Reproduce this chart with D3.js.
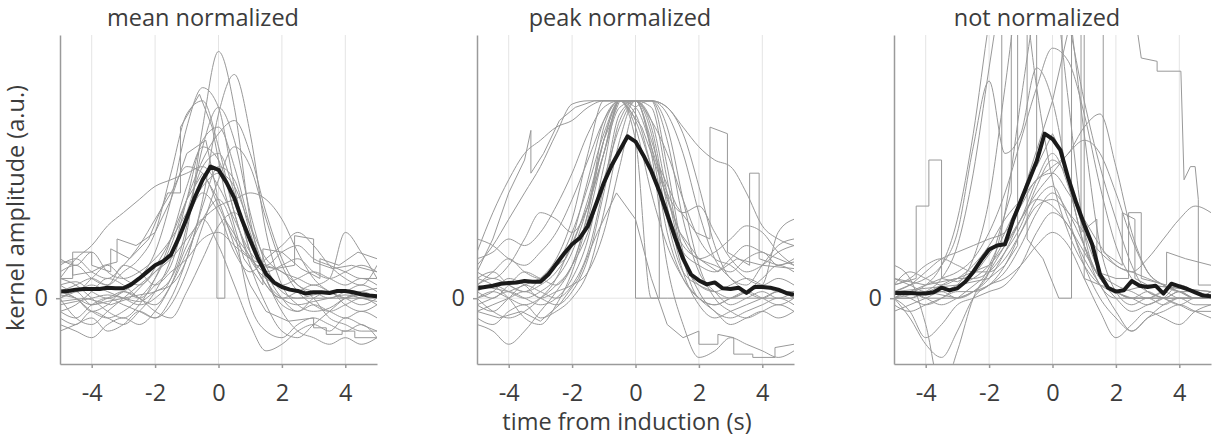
<!DOCTYPE html>
<html>
<head>
	<meta charset="utf-8">
	<title>kernel amplitude</title>
	<style>
		body { margin: 0; background: #fff; }
		text { font-family: 'Open Sans', sans-serif; fill: #3c3c3c; }
		.grid line { stroke: #e4e4e4; stroke-width: 1; }
		.trace { fill: none; stroke: #999; stroke-width: 1; }
		.mean { fill: none; stroke: #1a1a1a; stroke-width: 4; stroke-linejoin: round; }
		.axis path, .axis line { stroke: #9a9a9a; stroke-width: 1.5; }
		.axis text { font-size: 23.5px; fill: #3c3c3c; font-family: 'Open Sans', sans-serif; }
		.title, .label { font-size: 23.5px; }
	</style>
</head>
<body>
<script src="https://d3js.org/d3.v7.min.js"></script>
<script>
	'use strict';

	// time grids (s)
	const tTrace = [-5, -4.5, -4, -3.5, -3, -2.5, -2, -1.5, -1, -0.5, 0, 0.5, 1, 1.5, 2, 2.5, 3, 3.5, 4, 4.5, 5];
	const tMean = [-5, -4.75, -4.5, -4.25, -4, -3.75, -3.5, -3.25, -3, -2.75, -2.5, -2.25, -2, -1.75, -1.5, -1.25,
		-1, -0.75, -0.5, -0.25, 0, 0.25, 0.5, 0.75, 1, 1.25, 1.5, 1.75, 2, 2.25, 2.5, 2.75, 3, 3.25, 3.5, 3.75,
		4, 4.25, 4.5, 4.75, 5];

	const titles = ['mean normalized', 'peak normalized', 'not normalized'];
	const xTicks = [-4, -2, 0, 2, 4];
	const yTicks = [0];

	// mean normalized: smooth traces on tTrace, stepped traces as [t, v], mean on tMean
	const meanNormTraces = [
		[0.05, 0.0, -0.1, -0.05, 0.0, 0.05, 0.1, 0.3, 1.0, 2.6, 3.75, 2.9, 1.2, 0.3, 0.0, -0.1, -0.05, 0.0, 0.05, 0.0, -0.05],
		[-0.1, -0.05, 0.0, 0.05, 0.0, -0.05, 0.1, 0.2, 0.6, 1.5, 2.8, 3.4, 2.5, 1.0, 0.2, -0.1, -0.2, -0.15, 0.0, 0.05, 0.0],
		[0.2, 0.25, 0.1, 0.0, 0.1, 0.3, 0.7, 1.5, 2.6, 3.2, 2.9, 1.7, 0.7, 0.2, 0.0, 0.1, 0.2, 0.1, 0.0, 0.1, 0.15],
		[0.4, 0.5, 0.3, 0.2, 0.4, 0.6, 1.0, 1.9, 2.8, 3.0, 2.3, 1.3, 0.6, 0.3, 0.2, 0.3, 0.4, 0.3, 0.2, 0.3, 0.2],
		[0.0, 0.1, 0.2, 0.1, 0.0, -0.1, 0.0, 0.3, 1.1, 2.3, 2.9, 2.4, 1.3, 0.5, 0.1, 0.0, 0.05, 0.1, 0.1, 0.0, 0.05],
		[-0.3, -0.4, -0.2, -0.3, -0.4, -0.2, 0.1, 0.6, 1.5, 2.4, 2.6, 2.0, 1.1, 0.4, 0.0, -0.2, -0.1, -0.2, -0.3, -0.2, -0.3],
		[0.3, 0.2, 0.0, -0.2, -0.3, -0.1, 0.3, 0.9, 1.7, 2.3, 2.1, 1.3, 0.5, -0.1, -0.5, -0.6, -0.4, -0.2, 0.0, 0.1, 0.0],
		[0.1, 0.0, -0.2, -0.3, -0.2, 0.0, 0.3, 0.8, 1.5, 2.1, 2.5, 2.7, 2.2, 1.3, 0.6, 0.2, 0.1, 0.0, 0.1, 0.2, 0.1],
		[0.5, 0.6, 0.4, 0.3, 0.5, 0.8, 1.2, 1.6, 2.0, 1.9, 1.4, 0.9, 0.6, 0.4, 0.5, 0.6, 0.4, 0.3, 0.4, 0.5, 0.4],
		[0.3, 0.6, 0.8, 1.1, 1.3, 1.5, 1.7, 1.8, 1.9, 2.0, 1.7, 1.2, 0.7, 0.5, 0.7, 0.8, 0.6, 0.5, 0.4, 0.3, 0.3],
		[-0.2, -0.1, 0.1, 0.3, 0.2, 0.0, -0.1, 0.2, 0.7, 1.2, 1.5, 1.0, -0.1, -0.5, -0.6, -0.4, -0.3, -0.4, -0.5, -0.4, -0.6],
		[0.0, -0.3, -0.4, -0.2, 0.0, 0.2, 0.4, 0.6, 0.9, 1.2, 1.4, 1.5, 1.6, 1.5, 1.2, 0.7, 0.3, 0.1, 0.0, -0.1, 0.0],
		[0.6, 0.5, 0.7, 0.4, 0.3, 0.4, 0.6, 0.9, 1.3, 1.7, 1.9, 1.7, 1.1, 0.6, 0.4, 0.3, 0.2, 0.3, 1.0, 0.7, 0.3],
		[0.2, 0.1, 0.3, 0.5, 0.3, 0.2, 0.4, 0.7, 1.2, 1.6, 1.3, 0.7, 0.4, 0.6, 0.8, 1.0, 0.8, 0.5, 0.3, 0.2, 0.5],
		[-0.2, -0.3, -0.1, 0.0, -0.1, -0.2, -0.3, -0.1, 0.4, 1.1, 1.8, 2.3, 2.0, 1.2, 0.5, 0.1, -0.1, -0.2, -0.1, 0.0, -0.1],
		[0.1, 0.2, 0.3, 0.2, 0.5, 0.4, 0.2, 0.4, 0.6, 0.9, 1.0, 0.8, 0.6, 0.5, 0.4, 0.2, 0.0, -0.3, -0.4, -0.5, -0.5],
		[0.0, 0.1, -0.1, 0.0, 0.1, 0.0, 0.2, 0.5, 1.3, 2.0, 2.2, 1.6, 0.7, 0.2, 0.0, 0.0, 0.0, 0.0, 0.0, 0.0, 0.0],
		[-0.5, -0.4, -0.3, -0.5, -0.4, -0.2, -0.3, 0.0, 0.6, 1.4, 2.0, 1.8, 1.0, 0.3, -0.2, -0.5, -0.6, -0.7, -0.6, -0.7, -0.6],
		[0.1, 0.0, -0.2, -0.1, 0.1, 0.0, -0.2, -0.3, 0.1, 0.6, 1.1, 1.3, 0.9, 0.3, -0.1, -0.2, 0.0, 0.1, -0.1, -0.2, -0.1],
		[-0.4, -0.5, -0.6, -0.4, -0.3, -0.4, -0.2, 0.2, 0.8, 1.2, 0.8, 0.2, -0.4, -0.8, -0.7, -0.5, -0.4, -0.5, -0.3, -0.4, -0.5]
	];
	const meanNormSteps = [
		[[-5, 0.55], [-4.6, 0.55], [-4.6, 0.35], [-4.0, 0.4], [-3.6, 0.5], [-3.2, 0.55], [-3.2, 0.9], [-2.6, 0.8],
			[-2.0, 1.0], [-1.5, 1.5], [-1.0, 2.2], [-0.4, 2.4], [-0.05, 1.6], [-0.05, 0], [0.2, 0], [0.2, 1.2],
			[0.6, 0.9], [1.2, 0.5], [1.8, 0.45], [2.4, 0.5], [2.4, 0.95], [3.0, 0.9], [3.0, 0.55], [3.6, 0.45],
			[4.2, 0.5], [5, 0.4]],
		[[-5, -0.05], [-4.2, 0.0], [-3.4, -0.1], [-2.8, 0.0], [-2.2, 0.3], [-1.6, 0.8], [-1.0, 1.5], [-0.5, 1.9],
			[0, 1.5], [0.5, 0.8], [1.0, 0.2], [1.5, -0.2], [2.2, -0.35], [3.0, -0.3], [3.0, -0.45], [3.4, -0.45],
			[3.4, -0.55], [3.9, -0.55], [3.9, -0.5], [4.3, -0.5], [4.3, -0.6], [5, -0.6]],
		[[-5, 0.3], [-4.6, 0.3], [-4.6, 0.7], [-4.0, 0.7], [-4.0, 0.5], [-3.4, 0.4], [-3.4, 0.75], [-2.8, 0.6],
			[-2.2, 0.9], [-1.6, 1.6], [-1.2, 1.6], [-1.2, 2.6], [-0.6, 3.1], [-0.2, 2.6], [0.2, 1.6], [0.8, 0.6],
			[1.4, 0.2], [1.4, 0.75], [2.0, 0.7], [2.6, 0.45], [3.2, 0.3], [3.2, 0.6], [3.8, 0.5], [4.4, 0.7], [5, 0.6]]
	];
	const meanNormAvg = [0.10, 0.11, 0.13, 0.14, 0.14, 0.14, 0.16, 0.15, 0.15, 0.21, 0.30, 0.40, 0.50, 0.56, 0.66, 0.92,
		1.22, 1.53, 1.80, 2.00, 1.95, 1.76, 1.52, 1.18, 0.88, 0.60, 0.37, 0.24, 0.17, 0.13, 0.11, 0.07, 0.09, 0.09,
		0.08, 0.11, 0.11, 0.09, 0.06, 0.04, 0.03];

	// peak normalized
	const peakNormTraces = [
		[0.0, 0.1, 0.0, -0.1, 0.0, 0.2, 0.5, 1.3, 2.6, 3.0, 3.0, 2.3, 1.0, 0.3, 0.0, -0.1, 0.0, 0.1, 0.0, -0.1, 0.0],
		[0.2, 0.3, 0.2, 0.1, 0.3, 0.6, 1.2, 2.2, 3.0, 3.0, 3.0, 2.7, 1.6, 0.6, 0.2, 0.1, 0.2, 0.3, 0.2, 0.1, 0.1],
		[-0.1, 0.0, 0.1, 0.0, -0.1, 0.0, 0.3, 0.9, 2.0, 3.0, 3.0, 3.0, 2.0, 0.7, 0.1, -0.2, -0.3, -0.2, -0.1, 0.0, -0.1],
		[0.5, 0.8, 1.2, 1.6, 2.0, 2.5, 2.95, 3.0, 3.0, 3.0, 2.8, 2.0, 1.2, 0.7, 0.5, 0.4, 0.6, 0.8, 0.7, 0.6, 0.5],
		[0.7, 1.3, 1.8, 2.2, 2.4, 2.6, 2.7, 2.9, 3.0, 3.0, 3.0, 3.0, 2.9, 2.6, 2.3, 2.1, 2.0, 1.6, 1.1, 0.9, 0.8],
		[0.0, -0.2, -0.3, -0.2, 0.0, 0.3, 0.9, 1.8, 2.7, 3.0, 2.6, 1.6, 0.8, 0.3, 0.0, -0.2, -0.4, -0.3, -0.2, -0.3, -0.2],
		[0.3, 0.2, 0.0, -0.3, -0.4, -0.1, 0.4, 1.2, 2.2, 3.0, 3.0, 2.2, 0.5, -0.4, -0.9, -0.8, -0.6, -0.7, -0.8, -0.9, -0.8],
		[-0.4, -0.5, -0.7, -0.5, -0.2, 0.1, 0.5, 1.3, 2.4, 3.0, 3.0, 2.6, 1.4, 0.4, -0.1, -0.3, -0.2, -0.1, 0.0, 0.1, 0.0],
		[0.6, 0.7, 0.9, 0.8, 1.0, 1.4, 1.9, 2.5, 2.9, 3.0, 2.7, 2.0, 1.3, 0.8, 0.6, 0.5, 0.4, 0.6, 0.7, 0.5, 0.6],
		[0.1, 0.0, 0.2, 0.4, 0.3, 0.2, 0.5, 1.0, 1.8, 2.6, 3.0, 3.0, 2.8, 2.2, 1.3, 0.6, 0.3, 0.1, 0.0, 0.1, 0.0],
		[0.2, 0.4, 0.6, 0.4, 0.3, 0.5, 1.0, 1.7, 2.5, 3.0, 2.9, 2.3, 1.5, 0.9, 0.6, 0.7, 0.9, 1.1, 1.0, 0.7, 0.5],
		[-0.2, -0.1, 0.0, 0.1, 0.0, -0.1, 0.1, 0.6, 1.6, 2.7, 3.0, 2.9, 1.8, 0.6, 0.0, -0.1, 0.0, 0.1, 0.3, 0.5, 0.4],
		[0.9, 0.8, 0.6, 0.5, 0.7, 1.0, 1.5, 2.1, 2.7, 3.0, 3.0, 2.4, 1.6, 1.3, 1.4, 1.0, 0.6, 0.4, 0.5, 0.7, 0.8],
		[0.1, 0.2, 0.1, 0.0, 0.1, 0.3, 0.7, 1.4, 2.2, 3.0, 3.0, 2.5, 1.2, 0.4, 0.2, 0.1, 0.0, 0.1, 0.2, 1.0, 1.2],
		[0.4, 0.3, 0.5, 0.9, 1.3, 1.2, 1.0, 1.4, 2.2, 2.9, 3.0, 2.7, 2.2, 1.5, 0.9, 0.6, 0.5, 0.3, 0.2, 0.3, 0.2],
		[-0.1, -0.2, 0.0, 0.2, 0.1, 0.0, 0.2, 0.7, 1.7, 2.8, 3.0, 3.0, 2.4, 1.2, 0.4, 0.1, -0.1, 0.0, 0.1, 0.0, 0.1],
		[0.0, 0.1, 0.3, 0.2, 0.0, 0.1, 0.2, 0.4, 1.0, 2.0, 2.9, 3.0, 2.9, 2.5, 1.7, 0.8, 0.3, 0.2, 0.5, 0.8, 0.9],
		[0.3, 0.4, 0.2, 0.1, 0.2, 0.4, 0.8, 1.5, 2.4, 3.0, 2.4, 0.0, 0.0, 0.0, 0.0, 0.0, 0.0, 0.0, 0.0, 0.0, 0.0],
		[-0.3, -0.4, -0.2, -0.1, -0.3, -0.2, 0.0, 0.4, 1.3, 2.4, 3.0, 3.0, 2.6, 1.5, 0.5, 0.0, -0.2, -0.3, -0.2, -0.1, -0.2]
	];
	const peakNormSteps = [
		[[-5, 0.4], [-4.5, 0.9], [-4.0, 1.6], [-3.5, 2.1], [-3.3, 2.55], [-3.3, 1.9], [-2.9, 2.2], [-2.4, 2.7],
			[-1.9, 2.9], [-1.3, 3.0], [-0.4, 3.0], [0.2, 2.6], [0.8, 1.8], [1.4, 1.0], [2.0, 0.6], [2.6, 0.4],
			[3.2, 0.6], [4, 0.5], [5, 0.45]],
		[[-5, 0.2], [-4, 0.1], [-3, 0.3], [-2.2, 0.6], [-1.5, 1.4], [-1.0, 2.4], [-0.5, 3.0], [0.0, 3.0], [0.0, 0.0],
			[0.75, 0.0], [0.75, 2.0], [1.3, 1.4], [1.9, 1.0], [2.35, 0.9], [2.35, 2.6], [2.9, 2.5], [2.9, 0.7],
			[3.6, 0.5], [3.6, 1.9], [3.9, 1.9], [3.9, 0.6], [4.5, 0.5], [5, 0.55]],
		[[-5, -0.2], [-4.3, -0.3], [-3.6, -0.2], [-3, -0.35], [-2.4, -0.1], [-1.8, 0.3], [-1.2, 1.0], [-0.6, 1.6],
			[0, 1.2], [0.5, 0.3], [1.0, -0.4], [1.5, -0.6], [2.0, -0.5], [2.0, -0.7], [2.6, -0.7], [2.6, -0.55],
			[3.1, -0.6], [3.1, -0.85], [3.7, -0.85], [3.7, -0.9], [4.4, -0.9], [4.4, -0.75], [5, -0.7]]
	];
	const peakNormAvg = [0.15, 0.17, 0.19, 0.22, 0.23, 0.24, 0.26, 0.25, 0.25, 0.36, 0.52, 0.68, 0.82, 0.92, 1.10, 1.42,
		1.75, 2.02, 2.24, 2.46, 2.38, 2.17, 1.93, 1.63, 1.28, 0.92, 0.60, 0.36, 0.27, 0.21, 0.24, 0.15, 0.14, 0.16,
		0.08, 0.17, 0.17, 0.16, 0.13, 0.08, 0.05];

	// not normalized
	const notNormTraces = [
		[0.1, 0.2, 0.3, 0.5, 1.0, 2.3, 3.3, 2.2, 2.5, 3.5, 3.0, 1.8, 0.8, 0.3, 0.1, 0.0, 0.0, 0.1, 0.0, 0.0, 0.1],
		[0.0, 0.0, 0.1, 0.3, 0.8, 1.9, 3.5, 5.0, 6.0, 6.0, 5.0, 3.0, 1.0, 0.3, 0.1, 0.0, -0.1, 0.0, 0.0, 0.0, 0.0],
		[0.1, 0.0, -0.1, 0.0, 0.2, 0.6, 1.5, 3.2, 5.0, 6.0, 6.0, 4.5, 2.5, 0.8, 0.1, -0.1, 0.0, 0.0, 0.1, 0.0, 0.0],
		[0.0, 0.1, 0.2, 0.3, 0.4, 0.6, 1.0, 1.6, 2.4, 3.2, 3.8, 3.6, 2.8, 1.7, 0.8, 0.3, 0.1, 0.0, -0.1, 0.0, 0.0],
		[0.1, 0.2, 0.4, 0.6, 0.7, 0.8, 0.9, 1.0, 1.4, 1.8, 1.9, 1.6, 1.2, 0.8, 0.5, 0.4, 0.3, 0.2, 0.1, 0.0, 0.0],
		[0.0, 0.1, 0.0, 0.0, 0.0, 0.1, 0.2, 0.4, 0.8, 1.3, 1.6, 1.3, 0.8, 0.3, 0.1, 0.0, 0.0, -0.1, 0.0, 0.0, 0.0],
		[-0.1, -0.2, -0.1, 0.0, 0.1, 0.1, 0.2, 0.5, 1.0, 1.5, 1.7, 1.2, 0.5, 0.0, -0.3, -0.5, -0.3, -0.2, -0.1, -0.2, -0.3],
		[0.2, 0.3, 0.5, 0.6, 0.5, 0.4, 0.4, 0.6, 1.0, 1.4, 1.5, 1.3, 1.0, 0.7, 0.5, 0.4, 0.6, 0.9, 1.2, 1.4, 1.3],
		[0.5, 0.3, -0.4, -1.4, -0.8, 0.0, 0.4, 0.8, 1.2, 1.5, 1.4, 1.1, 0.7, 0.3, 0.0, -0.2, -0.1, 0.0, 0.2, 0.1, 0.0],
		[0.0, -0.2, -0.6, -0.4, -0.1, 0.0, 0.1, 0.2, 0.5, 1.0, 1.3, 1.1, 0.6, 0.2, -0.2, -0.5, -0.3, -0.1, 0.0, -0.1, -0.1],
		[0.2, 0.4, 0.3, 0.2, 0.3, 0.5, 0.8, 1.2, 1.5, 1.8, 2.0, 2.2, 2.6, 2.8, 2.0, 1.0, 0.4, 0.2, 0.1, 0.1, 0.0],
		[0.0, 0.0, 0.1, 0.1, 0.2, 0.3, 0.5, 0.8, 1.2, 1.8, 2.2, 1.7, 0.8, 0.2, 0.0, 0.0, 0.1, 0.0, 0.0, 0.0, 0.1],
		[0.3, 0.2, 0.1, 0.2, 0.3, 0.3, 0.4, 0.7, 1.1, 1.7, 2.1, 1.8, 1.0, 0.4, 0.2, 0.1, 0.0, 0.1, 0.2, 0.1, 0.0],
		[-0.2, -0.1, 0.0, 0.1, 0.0, 0.1, 0.4, 1.3, 3.0, 4.5, 5.0, 4.2, 3.0, 2.0, 1.2, 0.5, 0.1, 0.0, -0.1, -0.2, -0.2],
		[0.1, 0.1, 0.2, 0.5, 1.2, 2.5, 4.2, 5.5, 5.0, 3.2, 1.8, 1.0, 0.5, 0.2, 0.1, 0.0, 0.0, 0.0, 0.1, 0.0, 0.0],
		[0.0, 0.1, 0.0, -0.1, 0.0, 0.1, 0.3, 0.7, 1.2, 1.6, 1.9, 2.2, 2.4, 2.2, 1.6, 0.9, 0.4, 0.2, 0.1, 0.0, 0.0],
		[0.0, -0.3, -0.7, -0.9, -0.5, 0.0, 0.2, 0.3, 0.5, 0.8, 1.0, 0.8, 0.3, -0.2, -0.6, -0.4, -0.2, -0.3, -0.4, -0.2, -0.1]
	];
	const notNormSteps = [
		[[-5, 0.2], [-4.3, 0.3], [-4.3, 1.4], [-3.9, 1.4], [-3.9, 2.1], [-3.5, 2.1], [-3.5, 0.3], [-3.0, 0.25],
			[-2.4, 0.4], [-1.8, 0.8], [-1.3, 1.6], [-1.3, 5.0], [-0.8, 5.0], [-0.8, 0.9], [-0.3, 0.6], [0.2, 0.0],
			[0.6, 0.0], [0.6, 5.0], [1.0, 5.0], [1.0, 0.3], [1.5, 0.2], [2.2, 0.1], [3, 0.2], [4, 0.15], [5, 0.1]],
		[[-5, 0.1], [-4, 0.15], [-3, 0.2], [-2, 0.3], [-1.5, 0.5], [-1.1, 0.8], [-1.1, 5.0], [1.6, 5.0], [1.6, 0.7],
			[2.2, 0.5], [2.2, 1.3], [2.6, 1.2], [2.6, 0.3], [3, 0.2], [4, 0.15], [5, 0.1]],
		[[-5, 0.3], [-4, 0.2], [-3, 0.3], [-2, 0.5], [-1, 1.5], [0, 3.0], [0.7, 4.5], [1.2, 5.0], [2.4, 5.0],
			[2.8, 3.65], [3.3, 3.6], [3.3, 3.45], [4.05, 3.45], [4.15, 1.8], [4.35, 2.0], [4.5, 2.0], [4.6, 1.5],
			[4.6, 0.2], [5, 0.2]],
		[[-5, 0.0], [-4, 0.1], [-3, 0.0], [-2.2, 0.3], [-1.6, 0.8], [-1.6, 5.0], [-0.5, 5.0], [-0.5, 2.0], [0, 2.5],
			[0.3, 2.2], [0.3, 5.0], [0.9, 5.0], [0.9, 1.0], [1.4, 1.2], [1.4, 0.4], [2.0, 0.3], [2.4, 0.3], [2.4, 1.3],
			[2.8, 1.3], [2.8, 0.3], [3.6, 0.2], [3.6, 0.7], [4.2, 0.6], [5, 0.5]]
	];
	const notNormAvg = [0.08, 0.08, 0.08, 0.07, 0.07, 0.09, 0.16, 0.12, 0.15, 0.25, 0.40, 0.58, 0.74, 0.80, 0.82, 1.18,
		1.48, 1.78, 2.08, 2.50, 2.42, 2.25, 1.82, 1.45, 1.12, 0.82, 0.36, 0.16, 0.10, 0.12, 0.26, 0.19, 0.17, 0.19,
		0.07, 0.22, 0.18, 0.14, 0.09, 0.04, 0.03];

	const panels = [
		{title: titles[0], traces: meanNormTraces, steps: meanNormSteps, avg: meanNormAvg},
		{title: titles[1], traces: peakNormTraces, steps: peakNormSteps, avg: peakNormAvg},
		{title: titles[2], traces: notNormTraces, steps: notNormSteps, avg: notNormAvg}
	];

	const W = 1212, H = 438;
	const lefts = [60, 477, 894];
	const plotTop = 35, pw = 317, ph = 329;

	const svg = d3.select('body').append('svg')
		.attr('width', W)
		.attr('height', H);

	const x = d3.scaleLinear().domain([-5, 5]).range([0, pw]);
	const y = d3.scaleLinear().domain([-1, 4]).range([ph, 0]);

	const smooth = d3.line()
		.x(function(d) {return x(d[0]);})
		.y(function(d) {return y(d[1]);})
		.curve(d3.curveMonotoneX);
	const straight = d3.line()
		.x(function(d) {return x(d[0]);})
		.y(function(d) {return y(d[1]);});

	function pairs(ts, vs) {
		return vs.map(function(v, i) {return [ts[i], v];});
	}

	panels.forEach(function(p, i) {
		const g = svg.append('g').attr('transform', 'translate(' + lefts[i] + ',' + plotTop + ')');

		g.append('defs').append('clipPath').attr('id', 'clip' + i)
			.append('rect').attr('x', 0).attr('y', 0).attr('width', pw).attr('height', ph);

		// grid
		const grid = g.append('g').attr('class', 'grid');
		grid.selectAll('.gx').data(xTicks).enter().append('line')
			.attr('x1', function(d) {return x(d);}).attr('x2', function(d) {return x(d);})
			.attr('y1', 0).attr('y2', ph);
		grid.selectAll('.gy').data(yTicks).enter().append('line')
			.attr('x1', 0).attr('x2', pw)
			.attr('y1', function(d) {return y(d);}).attr('y2', function(d) {return y(d);});

		const plot = g.append('g').attr('clip-path', 'url(#clip' + i + ')');

		plot.selectAll('.trace.s').data(p.traces).enter().append('path')
			.attr('class', 'trace s')
			.attr('d', function(d) {return smooth(pairs(tTrace, d));});
		plot.selectAll('.trace.st').data(p.steps).enter().append('path')
			.attr('class', 'trace st')
			.attr('d', function(d) {return straight(d);});

		plot.append('path')
			.attr('class', 'mean')
			.attr('d', straight(pairs(tMean, p.avg)));

		g.append('g')
			.attr('class', 'axis')
			.attr('transform', 'translate(0,' + ph + ')')
			.call(d3.axisBottom(x).tickValues(xTicks).tickFormat(function(d) {return String(d);})
				.tickSize(4).tickSizeOuter(0).tickPadding(16));

		g.append('g')
			.attr('class', 'axis')
			.call(d3.axisLeft(y).tickValues(yTicks).tickFormat(function(d) {return String(d);})
				.tickSize(4).tickSizeOuter(0).tickPadding(8));

		g.append('text')
			.attr('class', 'title')
			.attr('x', 143)
			.attr('y', -9)
			.attr('text-anchor', 'middle')
			.text(p.title);
	});

	svg.append('text')
		.attr('class', 'label')
		.attr('transform', 'translate(24,208) rotate(-90)')
		.attr('text-anchor', 'middle')
		.text('kernel amplitude (a.u.)');

	svg.append('text')
		.attr('class', 'label')
		.attr('x', 627)
		.attr('y', 430)
		.attr('text-anchor', 'middle')
		.text('time from induction (s)');
</script>
</body>
</html>
